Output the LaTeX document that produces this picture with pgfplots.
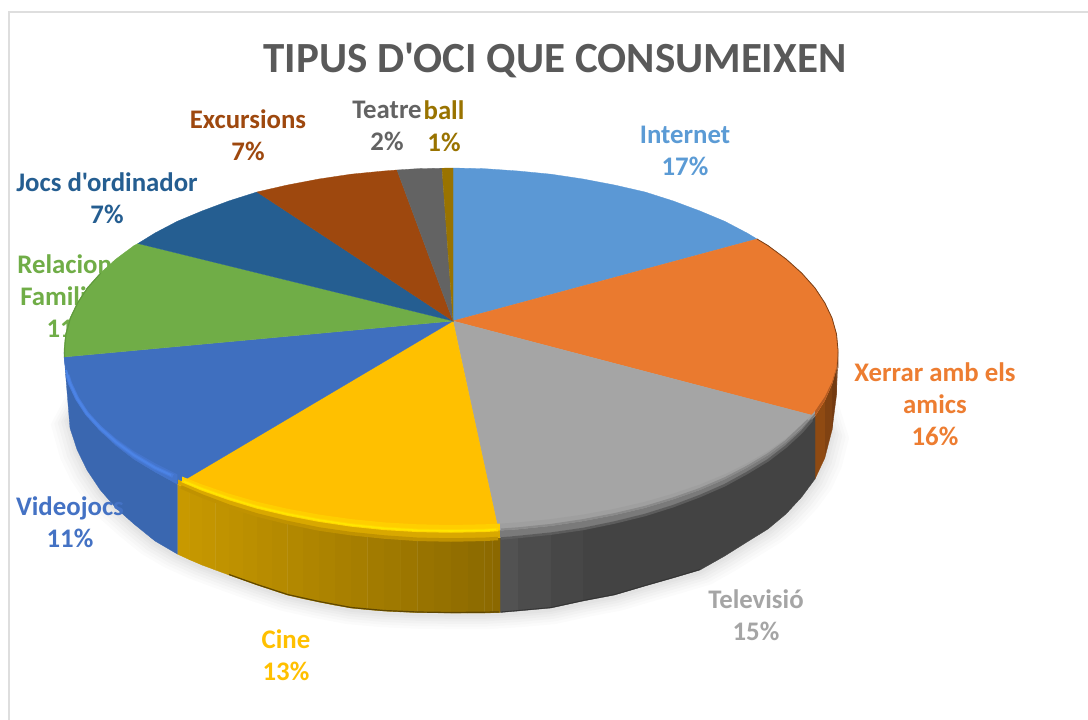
\documentclass[border=0pt]{standalone}
\usepackage{pgfplots}
\pgfplotsset{compat=1.18}
\usepackage{pgfplotstable}
\usepackage{fontspec}
\setmainfont{Carlito}[Ligatures=TeXOff]
\definecolor{ybL}{HTML}{C99A00}
\definecolor{ybR}{HTML}{8A6800}
\newcommand{\dc}[1]{\definecolor{x#1}{HTML}{#1}}
\dc{70AD47}\dc{6B3610}\dc{733A11}\dc{804212}\dc{8F4A12}\dc{434343}\dc{424242}\dc{444444}\dc{474747}\dc{4C4C4C}\dc{525252}
\dc{3A67B0}\dc{3F6EBC}\dc{5E4600}\dc{333333}\dc{5B98D5}\dc{EA7A2F}
\dc{A5A5A5}\dc{FFC000}\dc{3F6FBF}\dc{255E91}\dc{9E480E}\dc{636363}\dc{997300}\dc{FFCE00}\dc{E2B000}\dc{FFE600}\dc{4475CC}
\dc{4C84E6}\dc{989898}\dc{6E6E6E}\dc{B55C22}\dc{7A4018}\dc{5F9A3C}\dc{595959}\dc{5B9BD5}\dc{ED7D31}\dc{4472C4}
\dc{FFD600}\dc{FFDE00}\dc{C09200}\dc{A88000}\dc{487CDA}\dc{8A8A8A}\dc{5C5C5C}\dc{9F9F9F}\dc{7A7A7A}\dc{D9A800}
\pgfplotstableread{
x y
85 385
68 417
77.2 450
87 470
100.3 490
116 508
134 524
155 541
177.3 554
202 565
229 575
257 585
287.5 595
319 602
351 608
384 611
417.3 612.5
451 613
484.7 613
518 611
551 608
583 601
614.5 595
645 586
673 578
700 570
724.7 556
747 542
768 529
786 514
801.7 497
815 479
824.8 458
832 430
818 385
}\silhouette
\newcommand{\strip}[7]{\addplot[fill=#1,draw=#1,line width=.3pt] coordinates {(#2,#3)(#5,#6)(#5,#7)(#2,#4)} --cycle;}
\newcommand{\shadow}[3]{\addplot[fill=black,draw=none,opacity=#1] table[x expr={451+(\thisrow{x}-451)*#2},y expr={430+(\thisrow{y}-430)*#2+#3}] {\silhouette} --cycle;}
\newcommand{\lab}[5]{\node[font=\bfseries\fontsize{#4}{32}\selectfont,text=#5,align=center,anchor=center,inner sep=0pt] at (axis cs:#1,#2) {#3};}
\begin{document}
\begin{tikzpicture}
\begin{axis}[
  scale only axis,width=1088pt,height=720pt,
  xmin=0,xmax=1088,ymin=0,ymax=720,y dir=reverse,
  hide axis,clip=true]
% page
\addplot[fill=white,draw=none] coordinates {(0,0)(1088,0)(1088,720)(0,720)} --cycle;
% frame
\addplot[color=black!13,line width=2pt] coordinates {(9,720)(9,12)(1088,12)};
% label hidden behind the pie
\lab{70}{296}{Relacions\\Familiars\\11\%}{26.8}{x70AD47}
% shadow
\shadow{0.016}{1.045}{8}
\shadow{0.016}{1.036}{7}
\shadow{0.018}{1.027}{6}
\shadow{0.018}{1.018}{5}
\shadow{0.02}{1.01}{4}
\shadow{0.02}{1.004}{3}
% side: orange
\strip{x6B3610}{838}{352}{352}{836.5}{368.3}{395}
\strip{x733A11}{836.5}{368.3}{395}{832}{384}{430}
\strip{x804212}{832}{384}{430}{824.8}{400.4}{458}
\strip{x8F4A12}{824.8}{400.4}{458}{815}{416}{479}
% side: grey
\addplot[fill=x434343,draw=x434343,line width=.3pt] coordinates {(815,416)(801.7,431)(786,445.5)(768,459.3)(747,472)(724.7,484.2)(700,495)(673,505.2)(645,514)(614.5,521.5)(583,528)(583,601)(614.5,595)(645,586)(673,578)(700,570)(724.7,556)(747,542)(768,529)(786,514)(801.7,497)(815,479)} --cycle;
\strip{x474747}{583}{528}{601}{551}{532.6}{608}
\strip{x4C4C4C}{551}{532.6}{608}{518}{536}{611}
\strip{x525252}{518}{536}{611}{500}{537.5}{612.5}
% side: yellow
\strip{ybL!1!ybR}{500}{537.5}{612.5}{492.3}{537.9}{612.8}
\strip{ybL!4!ybR}{492.3}{537.9}{612.8}{484.7}{538.3}{613}
\strip{ybL!7!ybR}{484.7}{538.3}{613}{467.8}{538.9}{613}
\strip{ybL!13!ybR}{467.8}{538.9}{613}{451}{539}{613}
\strip{ybL!18!ybR}{451}{539}{613}{434}{538.9}{612.8}
\strip{ybL!23!ybR}{434}{538.9}{612.8}{417.3}{538.3}{612.5}
\strip{ybL!28!ybR}{417.3}{538.3}{612.5}{400.6}{537.4}{611.9}
\strip{ybL!34!ybR}{400.6}{537.4}{611.9}{384}{536}{611}
\strip{ybL!38!ybR}{384}{536}{611}{367.5}{534.5}{609.7}
\strip{ybL!44!ybR}{367.5}{534.5}{609.7}{351}{532.6}{608}
\strip{ybL!49!ybR}{351}{532.6}{608}{335}{530.5}{605.2}
\strip{ybL!54!ybR}{335}{530.5}{605.2}{319}{528}{602}
\strip{ybL!59!ybR}{319}{528}{602}{303}{525}{598.7}
\strip{ybL!64!ybR}{303}{525}{598.7}{287.5}{521.5}{595}
\strip{ybL!68!ybR}{287.5}{521.5}{595}{272}{518}{590}
\strip{ybL!73!ybR}{272}{518}{590}{257}{514}{585}
\strip{ybL!78!ybR}{257}{514}{585}{243}{509.7}{580}
\strip{ybL!82!ybR}{243}{509.7}{580}{229}{505.2}{575}
\strip{ybL!86!ybR}{229}{505.2}{575}{215.5}{500.2}{570}
\strip{ybL!90!ybR}{215.5}{500.2}{570}{202}{495}{565}
\strip{ybL!94!ybR}{202}{495}{565}{189.6}{489.8}{559.7}
\strip{ybL!98!ybR}{189.6}{489.8}{559.7}{177.3}{484.2}{554}
% side: blue
\addplot[fill=x3A67B0,draw=x3A67B0,line width=.3pt] coordinates {(177.3,484.2)(155,472)(134,459.3)(116,445.5)(100.3,431)(87,416)(77.2,400.4)(70,384)(65.5,368.3)(64,352)(65.5,373)(70,428)(77.2,450)(87,470)(100.3,490)(116,508)(134,524)(155,541)(177.3,554)} --cycle;
% dark bottom edge of the yellow side
\addplot[color=x5E4600,line width=1.2pt] coordinates {(499,612)(451,612.5)(417.3,612)(384,610.5)(351,607.5)(319,601.5)(287.5,594.5)(257,584.5)(229,574.5)};
\addplot[color=x333333,line width=.8pt] coordinates {(501,612)(518,610.5)(551,607.5)(583,600.5)(614.5,594.5)(645,585.5)(673,577.5)(700,569.5)};
% top faces
\addplot[fill=x5B98D5,draw=x5B98D5,line width=.3pt] coordinates {(453,321)(453,168)(484.7,168.7)(518,171)(551,174.2)(583,179)(614.5,185)(645,192)(673,200.9)(700,211)(724.7,221.3)(747,233)(757,239)} --cycle;
\addplot[fill=xEA7A2F,draw=xEA7A2F,line width=.3pt] coordinates {(453,321)(757,239)(768,245.6)(786,259)(801.7,273.1)(815,288)(824.8,302.9)(832,318)(836.5,334.1)(838,350)(838,352)(836.5,368.3)(832,384)(824.8,400.4)(815,416)} --cycle;
\addplot[fill=xA5A5A5,draw=xA5A5A5,line width=.3pt] coordinates {(453,321)(815,416)(801.7,431)(786,445.5)(768,459.3)(747,472)(724.7,484.2)(700,495)(673,505.2)(645,514)(614.5,521.5)(583,528)(551,532.6)(518,536)(500,537.5)} --cycle;
\addplot[fill=xFFC000,draw=xFFC000,line width=.3pt] coordinates {(453,321)(500,537.5)(484.7,538.3)(451,539)(417.3,538.3)(384,536)(351,532.6)(319,528)(287.5,521.5)(257,514)(229,505.2)(202,495)(177.3,484.2)} --cycle;
\addplot[fill=x3F6FBF,draw=x3F6FBF,line width=.3pt] coordinates {(453,321)(177.3,484.2)(155,472)(134,459.3)(116,445.5)(100.3,431)(87,416)(77.2,400.4)(70,384)(65.5,368.3)(64,357)} --cycle;
\addplot[fill=x70AD47,draw=x70AD47,line width=.3pt] coordinates {(453,321)(64,357)(64,350)(65.5,334.1)(70,318)(77.2,302.9)(87,288)(100.3,273.1)(116,259)(134,245.6)(138,243.5)} --cycle;
\addplot[fill=x255E91,draw=x255E91,line width=.3pt] coordinates {(453,321)(138,243.5)(155,233)(177.3,221.3)(202,211)(229,200.9)(257,192)} --cycle;
\addplot[fill=x9E480E,draw=x9E480E,line width=.3pt] coordinates {(453,321)(257,192)(287.5,185)(319,179)(351,174.2)(384,171)(397,170)} --cycle;
\addplot[fill=x636363,draw=x636363,line width=.3pt] coordinates {(453,321)(397,170)(417.3,168.7)(442,168.2)} --cycle;
\addplot[fill=x997300,draw=x997300,line width=.3pt] coordinates {(453,321)(442,168.2)(451,168)(453,168)} --cycle;
% bevel: yellow
\addplot[fill=xFFCE00,draw=none] coordinates {(182,481.4)(202,489.9)(229,499.4)(257,507.9)(287.5,515.1)(319,521.1)(351,525.9)(384,529.3)(417.3,531.3)(451,532)(484.7,531.3)(500,530.5)(500,523.6)(484.7,524.3)(451,525)(417.3,524.3)(384,522.4)(351,519.1)(319,514.6)(287.5,508.8)(257,501.8)(229,493.7)(202,484.5)(182,476.5)} --cycle;
\addplot[fill=xD9A800,draw=none] coordinates {(178,484.5)(202,495)(229,505.2)(257,514)(287.5,521.5)(319,528)(351,532.6)(384,536)(417.3,538.3)(451,539)(484.7,538.3)(500,537.5)(500,530.5)(484.7,531.3)(451,532)(417.3,531.3)(384,529.3)(351,525.9)(319,521.1)(287.5,515.1)(257,507.9)(229,499.4)(202,489.9)(178,479.6)} --cycle;
\addplot[color=xC09200,line width=3.5pt] coordinates {(181,487)(202,496)(229,506.2)(257,515)(287.5,522.5)(319,529)(351,533.6)(384,537)(417.3,539.3)(451,540)(484.7,539.3)(498,538.5)};
\addplot[color=xFFD600,line width=3.5pt] coordinates {(182,480.5)(202,488.9)(229,498.4)(257,506.9)(287.5,514.1)(319,520.1)(351,524.9)(384,528.3)(417.3,530.3)(451,531)(484.7,530.3)(498,529.5)};
\addplot[color=xFFE600,line width=1.6pt] coordinates {(184,481.5)(202,488.9)(229,498.4)(257,506.9)(287.5,514.1)(319,520.1)(351,524.9)(384,528.3)(417.3,530.3)(451,531)(484.7,530.3)(496,529.5)};
% bevel: blue
\addplot[fill=x4475CC,draw=none] coordinates {(177.3,484.2)(155,472)(134,459.3)(116,445.5)(100.3,431)(87,416)(77.2,400.4)(70,384)(65.5,368.3)(64,357)(65.5,367.1)(70,382)(77.2,396.8)(87,411.2)(100.3,425.1)(116,438.5)(134,451.2)(155,463.2)(177.3,474.3)} --cycle;
\addplot[color=x487CDA,line width=4pt] coordinates {(173,476)(155,467.7)(134,455.2)(116,442)(100.3,428.1)(87,413.6)(77.2,398.6)(70,383.3)(67.5,375)};
\addplot[color=x4C84E6,line width=2pt] coordinates {(171,475)(155,467.7)(134,455.2)(116,442)(100.3,428.1)(87,413.6)(77.2,398.6)(70,383.3)(66,370)};
% bevel: grey
\addplot[fill=x9F9F9F,draw=none] coordinates {(815,413.6)(801.7,428.1)(786,442)(768,455.2)(747,467.7)(724.7,479.3)(700,489.9)(673,499.4)(645,507.9)(614.5,515.1)(583,521.1)(551,525.9)(518,529.3)(500,530.5)(500,523.6)(518,522.4)(551,519.1)(583,514.6)(614.5,508.8)(645,501.8)(673,493.7)(700,484.5)(724.7,474.3)(747,463.2)(768,451.2)(786,438.5)(801.7,425.1)(815,411.2)} --cycle;
\addplot[fill=x7A7A7A,draw=none] coordinates {(815,416)(801.7,431)(786,445.5)(768,459.3)(747,472)(724.7,484.2)(700,495)(673,505.2)(645,514)(614.5,521.5)(583,528)(551,532.6)(518,536)(500,537.5)(500,530.5)(518,529.3)(551,525.9)(583,521.1)(614.5,515.1)(645,507.9)(673,499.4)(700,489.9)(724.7,479.3)(747,467.7)(768,455.2)(786,442)(801.7,428.1)(815,413.6)} --cycle;
\addplot[color=x8A8A8A,line width=2pt] coordinates {(808,420)(786,441)(768,454.2)(747,466.7)(724.7,478.3)(700,488.9)(673,498.4)(645,506.9)(614.5,514.1)(583,520.1)(551,524.9)(518,528.3)(501,529.5)};
\addplot[color=x5C5C5C,line width=2.5pt] coordinates {(812,420)(801.7,432)(786,446.5)(768,460.3)(747,473)(724.7,485.2)(700,496)(673,506.2)(645,515)(614.5,522.5)(583,529)(551,533.6)(518,537)(501,538.5)};
% bevel: orange
\addplot[fill=xB55C22,draw=none] coordinates {(838,352)(836.5,368.3)(832,384)(824.8,400.4)(815,416)(815,411.2)(824.8,396.8)(832,382)(836.5,367.1)} --cycle;
% thin dark rim on the back right and on the left
\addplot[color=x7A4018,line width=.8pt] coordinates {(757,239)(768,245.6)(786,259)(801.7,273.1)(815,288)(824.8,302.9)(832,318)(836.5,334.1)(838,350)(838,368)};
\addplot[color=x5F9A3C,line width=1pt] coordinates {(64.5,357)(64.5,350)(66,334.1)(70.5,318)(77.7,302.9)(87.5,288)(100.8,273.1)};
% labels over the pie
\lab{555}{61}{TIPUS D'OCI QUE CONSUMEIXEN}{43}{x595959}
\lab{685}{151}{Internet\\17\%}{26.8}{x5B9BD5}
\lab{935}{404}{Xerrar amb els\\amics\\16\%}{26.8}{xED7D31}
\lab{756}{615}{Televisió\\15\%}{26.8}{xA5A5A5}
\lab{286}{655}{Cine\\13\%}{26.8}{xFFC000}
\lab{70}{522}{Videojocs\\11\%}{26.8}{x4472C4}
\lab{107}{198}{Jocs d'ordinador\\7\%}{26.8}{x255E91}
\lab{248}{135}{Excursions\\7\%}{26.8}{x9E480E}
\lab{387}{126}{Teatre\\2\%}{26.8}{x636363}
\lab{444}{126}{ball\\1\%}{26.8}{x997300}
\end{axis}
\end{tikzpicture}
\end{document}
